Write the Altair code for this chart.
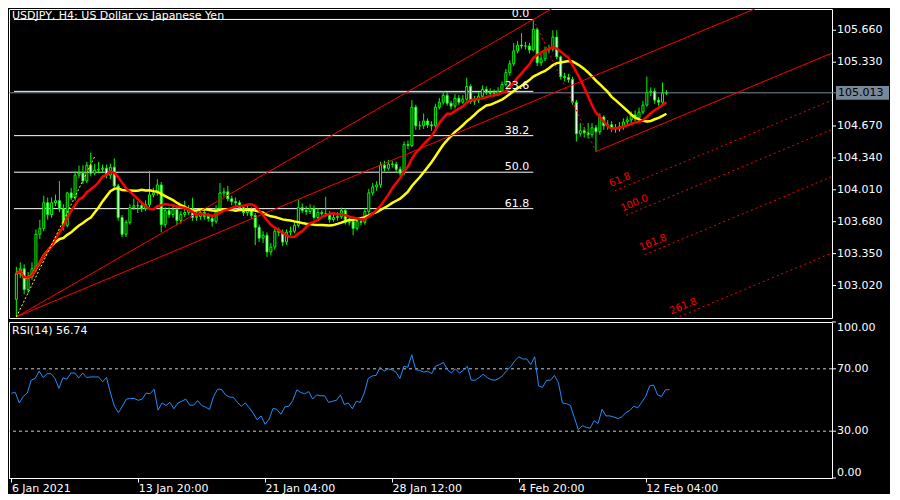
import altair as alt
import pandas as pd

title_text = "USDJPY, H4:  US Dollar vs Japanese Yen"
rsi_title = "RSI(14) 56.74"
last_price = 105.013

open_ = [102.878, 103.142, 103.193, 102.979, 103.112, 103.193, 103.550, 103.611, 103.876, 103.754,
 103.876, 103.897, 103.815, 103.642, 103.978, 103.927, 104.162, 104.182, 104.101, 104.264,
 104.182, 104.213, 104.223, 104.233, 104.162, 104.243, 104.050, 103.724, 103.550, 103.673,
 103.825, 103.846, 103.846, 103.815, 103.856, 103.958, 103.978, 104.060, 103.652, 103.795,
 103.754, 103.805, 103.693, 103.754, 103.775, 103.805, 103.724, 103.734, 103.775, 103.734,
 103.713, 103.683, 103.815, 103.978, 103.989, 103.917, 103.887, 103.876, 103.825, 103.775,
 103.805, 103.744, 103.622, 103.510, 103.540, 103.367, 103.418, 103.581, 103.571, 103.469,
 103.571, 103.581, 103.642, 103.825, 103.795, 103.785, 103.815, 103.724, 103.775, 103.764,
 103.764, 103.703, 103.724, 103.734, 103.795, 103.673, 103.683, 103.611, 103.683, 103.673,
 103.785, 103.978, 104.040, 104.060, 104.264, 104.233, 104.274, 104.274, 104.223, 104.182,
 104.478, 104.468, 104.865, 104.672, 104.672, 104.722, 104.682, 104.672, 104.865, 104.916,
 104.987, 104.906, 104.875, 104.957, 104.916, 104.947, 105.079, 104.926, 104.937, 104.977,
 105.049, 105.018, 105.008, 105.008, 105.028, 105.100, 105.222, 105.314, 105.446, 105.507,
 105.497, 105.497, 105.456, 105.670, 105.324, 105.365, 105.456, 105.467, 105.589, 105.385,
 105.181, 105.171, 105.151, 104.916, 104.590, 104.621, 104.600, 104.580, 104.651, 104.610,
 104.763, 104.672, 104.682, 104.651, 104.641, 104.661, 104.712, 104.733, 104.784, 104.753,
 104.814, 104.886, 105.018, 105.028, 104.937, 104.916, 105.008]

high = [103.214, 103.26, 103.24, 103.16, 103.26, 103.60, 103.70, 103.948, 103.93, 103.93,
 103.96, 104.101, 103.86, 103.99, 104.03, 104.20, 104.26, 104.264, 104.30, 104.396,
 104.28, 104.30, 104.27, 104.27, 104.28, 104.335, 104.07, 103.75, 103.70, 103.86,
 103.92, 103.89, 103.88, 103.90, 104.203, 104.03, 104.12, 104.09, 103.83, 103.83,
 103.85, 103.84, 103.79, 103.897, 103.85, 103.927, 103.78, 103.82, 103.80, 103.77,
 103.74, 103.85, 104.08, 104.03, 104.05, 103.95, 103.93, 103.90, 103.85, 103.85,
 103.83, 103.77, 103.65, 103.58, 103.57, 103.46, 103.62, 103.62, 103.60, 103.60,
 103.63, 103.68, 103.907, 103.87, 103.84, 103.86, 103.85, 103.82, 103.80, 103.938,
 103.79, 103.77, 103.78, 103.826, 103.82, 103.72, 103.71, 103.72, 103.72, 103.82,
 104.02, 104.08, 104.10, 104.30, 104.31, 104.32, 104.31, 104.30, 104.25, 104.51,
 104.52, 104.937, 104.89, 104.72, 104.80, 104.75, 104.72, 104.90, 104.96, 105.03,
 105.02, 104.93, 105.00, 104.99, 104.99, 105.17, 105.10, 104.98, 105.02, 105.09,
 105.08, 105.06, 105.05, 105.07, 105.13, 105.26, 105.35, 105.528, 105.55, 105.630,
 105.54, 105.53, 105.772, 105.69, 105.41, 105.49, 105.51, 105.660, 105.66, 105.40,
 105.22, 105.21, 105.18, 104.94, 104.70, 104.66, 104.70, 104.70, 104.68, 104.80,
 104.78, 104.73, 104.72, 104.69, 104.71, 104.75, 104.77, 104.82, 104.83, 104.86,
 104.93, 105.181, 105.07, 105.06, 104.97, 105.120, 105.04]

low = [102.694, 103.10, 102.93, 102.94, 103.08, 103.16, 103.50, 103.58, 103.70, 103.72,
 103.84, 103.78, 103.59, 103.62, 103.90, 103.90, 104.13, 104.07, 104.08, 104.15,
 104.16, 104.18, 104.19, 104.13, 104.12, 104.02, 103.69, 103.52, 103.52, 103.65,
 103.80, 103.77, 103.78, 103.79, 103.83, 103.93, 103.95, 103.571, 103.62, 103.72,
 103.72, 103.64, 103.66, 103.73, 103.75, 103.69, 103.69, 103.70, 103.70, 103.68,
 103.63, 103.66, 103.79, 103.94, 103.89, 103.85, 103.84, 103.79, 103.74, 103.74,
 103.71, 103.438, 103.47, 103.46, 103.316, 103.33, 103.39, 103.53, 103.43, 103.44,
 103.54, 103.56, 103.62, 103.77, 103.75, 103.76, 103.70, 103.70, 103.74, 103.73,
 103.67, 103.68, 103.69, 103.71, 103.65, 103.64, 103.540, 103.59, 103.64, 103.65,
 103.76, 103.95, 104.00, 104.03, 104.20, 104.21, 104.24, 104.19, 104.15, 104.16,
 104.43, 104.45, 104.63, 104.63, 104.64, 104.65, 104.62, 104.65, 104.84, 104.89,
 104.88, 104.84, 104.85, 104.89, 104.90, 104.93, 104.90, 104.89, 104.91, 104.96,
 104.99, 104.98, 104.97, 104.98, 105.00, 105.08, 105.19, 105.29, 105.42, 105.47,
 105.46, 105.42, 105.44, 105.29, 105.29, 105.34, 105.42, 105.44, 105.36, 105.15,
 105.13, 105.12, 104.89, 104.509, 104.56, 104.55, 104.54, 104.55, 104.406, 104.58,
 104.63, 104.63, 104.61, 104.60, 104.61, 104.63, 104.69, 104.70, 104.72, 104.73,
 104.79, 104.87, 104.98, 104.90, 104.88, 104.89, 104.99]

close = [103.142, 103.193, 102.979, 103.112, 103.193, 103.550, 103.611, 103.876, 103.754, 103.876,
 103.897, 103.815, 103.642, 103.978, 103.927, 104.162, 104.182, 104.101, 104.264, 104.182,
 104.213, 104.223, 104.233, 104.162, 104.243, 104.050, 103.724, 103.550, 103.673, 103.825,
 103.846, 103.846, 103.815, 103.856, 103.958, 103.978, 104.060, 103.652, 103.795, 103.754,
 103.805, 103.693, 103.754, 103.775, 103.805, 103.724, 103.734, 103.775, 103.734, 103.713,
 103.683, 103.815, 103.978, 103.989, 103.917, 103.887, 103.876, 103.825, 103.775, 103.805,
 103.744, 103.622, 103.510, 103.540, 103.367, 103.418, 103.581, 103.571, 103.469, 103.571,
 103.581, 103.642, 103.825, 103.795, 103.785, 103.815, 103.724, 103.775, 103.764, 103.764,
 103.703, 103.724, 103.734, 103.795, 103.673, 103.683, 103.611, 103.683, 103.673, 103.785,
 103.978, 104.040, 104.060, 104.264, 104.233, 104.274, 104.274, 104.223, 104.182, 104.478,
 104.468, 104.865, 104.672, 104.672, 104.722, 104.682, 104.672, 104.865, 104.916, 104.987,
 104.906, 104.875, 104.957, 104.916, 104.947, 105.079, 104.926, 104.937, 104.977, 105.049,
 105.018, 105.008, 105.008, 105.028, 105.100, 105.222, 105.314, 105.446, 105.507, 105.497,
 105.497, 105.456, 105.670, 105.324, 105.365, 105.456, 105.467, 105.589, 105.385, 105.181,
 105.171, 105.151, 104.916, 104.590, 104.621, 104.600, 104.580, 104.651, 104.610, 104.763,
 104.672, 104.682, 104.651, 104.641, 104.661, 104.712, 104.733, 104.784, 104.753, 104.814,
 104.886, 105.018, 105.028, 104.937, 104.916, 105.008, 105.013]

rsi = [54.4, 54.8, 48.1, 52.3, 54.4, 62.7, 63.8, 68.5, 64.4, 66.9,
 66.9, 63.8, 57.5, 64.2, 63.3, 67.3, 67.3, 64.2, 67.3, 64.4,
 64.8, 64.8, 64.8, 61.7, 64.4, 54.4, 46.0, 41.9, 46.0, 50.6,
 51.0, 51.0, 49.8, 50.6, 54.4, 54.0, 56.9, 43.5, 48.1, 46.5,
 48.5, 44.4, 48.1, 49.2, 50.6, 46.7, 46.7, 49.6, 46.5, 45.4,
 44.0, 52.3, 56.9, 56.9, 53.3, 51.9, 51.7, 48.5, 46.0, 48.1,
 45.0, 41.5, 37.3, 39.8, 34.4, 37.7, 44.6, 44.0, 40.8, 45.6,
 46.0, 49.8, 56.5, 54.8, 54.0, 55.4, 50.6, 53.3, 52.7, 52.7,
 48.5, 49.2, 49.8, 53.3, 47.1, 48.1, 44.4, 49.2, 48.5, 54.4,
 63.8, 65.4, 65.8, 71.0, 68.5, 70.0, 69.4, 67.9, 63.8, 71.5,
 71.0, 79.0, 69.4, 69.0, 67.9, 68.5, 66.9, 71.7, 72.7, 74.0,
 69.4, 67.3, 70.0, 67.3, 69.0, 71.7, 62.7, 62.7, 64.4, 66.5,
 64.4, 63.1, 62.7, 63.8, 65.8, 69.0, 71.5, 75.2, 77.7, 76.3,
 76.3, 72.7, 77.7, 59.0, 58.1, 62.7, 62.7, 65.8, 61.0, 48.1,
 47.7, 46.5, 38.8, 31.0, 33.5, 32.5, 31.9, 36.7, 35.0, 44.0,
 39.8, 39.8, 39.0, 38.1, 39.2, 41.9, 43.3, 46.0, 45.0, 48.5,
 52.3, 59.0, 59.6, 53.3, 52.3, 56.5, 56.74]

time_tick_bars = [0, 32, 64, 96, 128, 160]
time_tick_labels = ["6 Jan 2021", "13 Jan 20:00", "21 Jan 04:00", "28 Jan 12:00",
                    "4 Feb 20:00", "12 Feb 04:00"]
price_ticks = [103.02, 103.35, 103.68, 104.01, 104.34, 104.67, 105.33, 105.66]
rsi_ticks = [0, 30, 70, 100]
rsi_levels = [30, 70]

fib_names = ["0.0", "23.6", "38.2", "50.0", "61.8"]
fib_prices = [105.772, 105.028, 104.570, 104.192, 103.815]
fib_end_bar = 132

# anchors of the drawn objects (bar index, price)
swing_low = (0, 102.695)
swing_high = (132, 105.772)
pullback_low = (148, 104.406)
base_line_pt = (166, 105.500)
helper_end = (20, 104.355)
ch_levels = [61.8, 100.0, 161.8, 261.8]

# ---------------------------------------------------------------- layout
W = 823
H_MAIN = 309
H_RSI = 156
XDOM = [-0.6, 207]
YDOM = [102.684, 105.88]
RDOM = [0, 100]
X_END = 215
FONT = "DejaVu Sans"
WHITE = "#ffffff"

n = min(len(open_), len(high), len(low), len(close), len(rsi))
bars = pd.DataFrame({"i": list(range(n)), "o": open_[:n], "h": high[:n],
                     "l": low[:n], "c": close[:n], "rsi": rsi[:n]})

xs = alt.Scale(domain=XDOM, nice=False, zero=False)
ys = alt.Scale(domain=YDOM, nice=False, zero=False)
rs = alt.Scale(domain=RDOM, nice=False, zero=False)
xm = alt.X("i:Q", scale=xs, axis=None)

base = alt.Chart(bars)


def yq(field, scale=ys):
    return alt.Y(field, scale=scale, axis=None)


# grey current price line
price_df = pd.DataFrame({"p": [last_price], "t": [f"{last_price:.3f}"]})
price_line = alt.Chart(price_df).mark_rule(color="#778899", strokeWidth=1, clip=True).encode(
    y=yq("p:Q"))

# fibonacci retracement
fib_df = pd.DataFrame({"lvl": fib_names, "p": fib_prices,
                       "x0": [XDOM[0]] * len(fib_names), "x1": [fib_end_bar] * len(fib_names)})
fib_rules = alt.Chart(fib_df).mark_rule(color=WHITE, strokeWidth=1, clip=True).encode(
    x=alt.X("x0:Q", scale=xs, axis=None), x2="x1:Q", y=yq("p:Q"))
fib_text = alt.Chart(fib_df).mark_text(color=WHITE, align="right", baseline="bottom",
                                       dx=-4, dy=0, font=FONT, fontSize=11, clip=True).encode(
    x=alt.X("x1:Q", scale=xs, axis=None), y=yq("p:Q"), text="lvl:N")

# candles
wicks = base.mark_rule(color="#00ff00", strokeWidth=1, clip=True).encode(
    x=xm, y=yq("l:Q"), y2="h:Q")
bodies = base.mark_bar(size=2, stroke="#00ff00", strokeWidth=1, clip=True).encode(
    x=xm, y=yq("o:Q"), y2="c:Q",
    fill=alt.condition("datum.c >= datum.o", alt.value("black"), alt.value("white")))

# moving averages
ma_slow = base.transform_window(ma="mean(c)", frame=[-19, 0], sort=[alt.SortField("i")]).mark_line(
    color="#ffff00", strokeWidth=2.5, clip=True).encode(x=xm, y=yq("ma:Q"))
ma_fast = base.transform_window(ma="mean(c)", frame=[-9, 0], sort=[alt.SortField("i")]).mark_line(
    color="#ff0000", strokeWidth=2.5, clip=True).encode(x=xm, y=yq("ma:Q"))

# channel objects
slope = (base_line_pt[1] - swing_low[1]) / (base_line_pt[0] - swing_low[0])
drop = (swing_high[1] - pullback_low[1]) / (pullback_low[0] - swing_high[0])
width = swing_low[1] + slope * (pullback_low[0] - swing_low[0]) - pullback_low[1]
trend = (swing_high[1] - swing_low[1]) / (swing_high[0] - swing_low[0])

solid = [
    dict(x=swing_low[0], y=swing_low[1], x2=X_END, y2=swing_low[1] + trend * (X_END - swing_low[0])),
    dict(x=swing_low[0], y=swing_low[1], x2=X_END, y2=swing_low[1] + slope * (X_END - swing_low[0])),
    dict(x=pullback_low[0], y=pullback_low[1], x2=X_END,
         y2=pullback_low[1] + slope * (X_END - pullback_low[0])),
]
dashed = [dict(x=swing_high[0], y=swing_high[1], x2=pullback_low[0], y2=pullback_low[1])]
lvl_rows = []
for k in ch_levels:
    t = (k / 100.0) * width / (slope + drop)
    sx = pullback_low[0] + t
    sy = pullback_low[1] - drop * t
    dashed.append(dict(x=sx, y=sy, x2=X_END, y2=sy + slope * (X_END - sx)))
    lvl_rows.append(dict(x=sx, y=sy, lbl=f"{k:.1f}"))
helper = [dict(x=swing_low[0], y=swing_low[1], x2=helper_end[0], y2=helper_end[1])]


def seg_layer(rows, color, dash=None):
    kw = dict(color=color, strokeWidth=1, clip=True)
    if dash:
        kw["strokeDash"] = dash
    return alt.Chart(pd.DataFrame(rows)).mark_rule(**kw).encode(
        x=alt.X("x:Q", scale=xs, axis=None), y=yq("y:Q"), x2="x2:Q", y2="y2:Q")


red_solid = seg_layer(solid, "#ff0000")
red_dash = seg_layer(dashed, "#ff0000", [2, 3])
yellow_dash = seg_layer(helper, "#ffff00", [2, 2])

lvl_text = alt.Chart(pd.DataFrame(lvl_rows)).mark_text(
    color="#ff0000", align="left", baseline="bottom", angle=337, dx=-2, dy=-3,
    font=FONT, fontSize=10, clip=True).encode(
    x=alt.X("x:Q", scale=xs, axis=None), y=yq("y:Q"), text="lbl:N")

title = alt.Chart(pd.DataFrame({"t": [title_text]})).mark_text(
    color=WHITE, align="left", baseline="top", font=FONT, fontSize=11, clip=True).encode(
    x=alt.value(3), y=alt.value(1), text="t:N")

# right price scale (ticks and labels)
pt_df = pd.DataFrame({"v": price_ticks, "t": [f"{v:.3f}" for v in price_ticks]})
p_ticks = alt.Chart(pt_df).mark_rule(color=WHITE, strokeWidth=1).encode(
    x=alt.value(W), x2=alt.value(W + 4), y=yq("v:Q"))
p_labels = alt.Chart(pt_df).mark_text(color=WHITE, align="left", baseline="middle",
                                      font=FONT, fontSize=11).encode(
    x=alt.value(W + 5), y=yq("v:Q"), text="t:N")

# price tag on the axis
tag_box = alt.Chart(price_df).transform_calculate(
    lo="datum.p - 0.071", hi="datum.p + 0.071").mark_rect(color="#778899").encode(
    x=alt.value(W + 4), x2=alt.value(W + 57), y=yq("lo:Q"), y2="hi:Q")
tag_tick = alt.Chart(price_df).mark_rule(color="#778899", strokeWidth=1).encode(
    x=alt.value(W), x2=alt.value(W + 4), y=yq("p:Q"))
tag_text = alt.Chart(price_df).mark_text(color="black", align="left", baseline="middle",
                                         font=FONT, fontSize=11).encode(
    x=alt.value(W + 6), y=yq("p:Q"), text="t:N")

main = alt.layer(price_line, fib_rules, wicks, bodies, ma_slow, ma_fast,
                 red_solid, red_dash, yellow_dash, fib_text, lvl_text, title,
                 p_ticks, p_labels, tag_box, tag_tick, tag_text).properties(width=W, height=H_MAIN)

# ---------------------------------------------------------------- RSI
expr = " : ".join(f"datum.value == {b} ? '{l}'" for b, l in zip(time_tick_bars, time_tick_labels)) + " : ''"
rsi_line = base.mark_line(color="#1e90ff", strokeWidth=1, clip=True).encode(
    x=alt.X("i:Q", scale=xs, axis=alt.Axis(values=time_tick_bars, labelExpr=expr, labelAlign="left",
                                           labelPadding=0, title=None, labelOverlap=False,
                                           labelFlush=False, labelColor=WHITE, tickColor=WHITE,
                                           domainColor=WHITE, tickSize=4, labelFont=FONT,
                                           labelFontSize=11, grid=False)),
    y=yq("rsi:Q", rs))
rsi_lv = alt.Chart(pd.DataFrame({"v": rsi_levels})).mark_rule(
    color="#c8c8c8", strokeWidth=1, strokeDash=[3, 3]).encode(y=yq("v:Q", rs))
rsi_txt = alt.Chart(pd.DataFrame({"t": [rsi_title]})).mark_text(
    color=WHITE, align="left", baseline="top", font=FONT, fontSize=11, clip=True).encode(
    x=alt.value(3), y=alt.value(3), text="t:N")

rt_df = pd.DataFrame({"v": rsi_ticks, "t": [f"{v:.2f}" for v in rsi_ticks]})
r_ticks = alt.Chart(rt_df).mark_rule(color=WHITE, strokeWidth=1).encode(
    x=alt.value(W), x2=alt.value(W + 4), y=yq("v:Q", rs))


def r_label(lo, hi, baseline):
    return alt.Chart(rt_df).transform_filter(
        f"datum.v >= {lo} && datum.v <= {hi}").mark_text(
        color=WHITE, align="left", baseline=baseline, font=FONT, fontSize=11).encode(
        x=alt.value(W + 5), y=yq("v:Q", rs), text="t:N")


r_mid = r_label(1, 99, "middle")
r_top = r_label(100, 100, "top")
r_bot = r_label(0, 0, "bottom")

rsi_panel = alt.layer(rsi_lv, rsi_line, rsi_txt, r_ticks, r_mid, r_top, r_bot).properties(
    width=W, height=H_RSI)

chart = alt.vconcat(main, rsi_panel, spacing=2).properties(
    padding=0, background="black"
).configure_view(stroke=WHITE, strokeWidth=1, fill="black")

chart.save("out.html", embed_options={"renderer": "svg", "actions": False})
